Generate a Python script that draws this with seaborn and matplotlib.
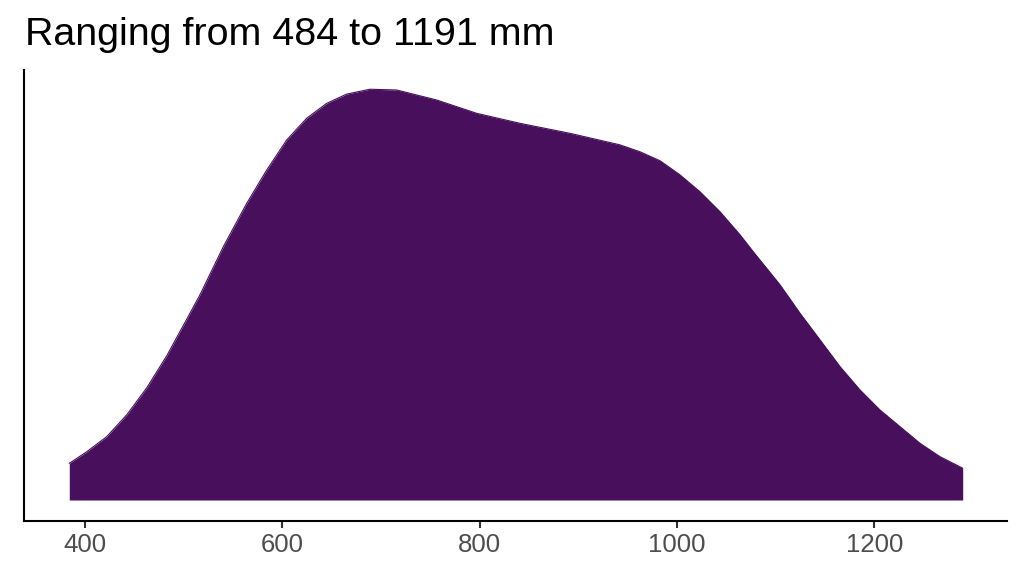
import matplotlib
matplotlib.use("Agg")
import matplotlib.pyplot as plt
import seaborn as sns
import pandas as pd

# Rainfall (mm) grid and estimated density
rain_mm = [384.1, 401.7, 422.0, 442.3, 462.5, 482.8, 503.1, 516.5, 540.2, 563.9,
           584.2, 604.4, 624.7, 645.0, 665.2, 688.8, 715.9, 756.4, 797.0, 840.9,
           891.5, 942.2, 962.5, 982.8, 1003.0, 1023.3, 1043.6, 1063.9, 1077.3, 1104.4,
           1124.7, 1145.0, 1165.2, 1185.5, 1205.7, 1226.0, 1246.3, 1266.5, 1289.5]
density = [0.000143, 0.000188, 0.000247, 0.000332, 0.000437, 0.000562, 0.000705, 0.000800,
           0.000988, 0.001157, 0.001287, 0.001404, 0.001489, 0.001547, 0.001583, 0.001602,
           0.001599, 0.001560, 0.001508, 0.001469, 0.001430, 0.001385, 0.001358, 0.001323,
           0.001268, 0.001202, 0.001124, 0.001034, 0.000968, 0.000839, 0.000728, 0.000624,
           0.000520, 0.000429, 0.000351, 0.000286, 0.000221, 0.000169, 0.000124]
x_ticks = [400, 600, 800, 1000, 1200]
title = "Ranging from 484 to 1191 mm"
fill_color = "#470F5C"

df = pd.DataFrame({"rain": rain_mm, "density": density})

sns.set_theme(style="ticks")
plt.rcParams["font.family"] = ["Liberation Sans", "DejaVu Sans"]

fig = plt.figure(figsize=(10.24, 5.76), dpi=100)
ax = fig.add_axes([24 / 1024, 1 - 520.7 / 576, (1007 - 24) / 1024, (520.7 - 70) / 576])

ax.fill_between(df["rain"], 0, df["density"], color=fill_color, linewidth=0)
sns.lineplot(data=df, x="rain", y="density", ax=ax, color=fill_color, linewidth=0.8)

ax.set_xlim(338.2, 1334.4)
ax.set_ylim(-8.07e-5, 0.001677)
ax.set_xticks(x_ticks)
ax.set_xticklabels([str(t) for t in x_ticks])
ax.set_yticks([])
ax.set_xlabel("")
ax.set_ylabel("")

for side in ["top", "right"]:
    ax.spines[side].set_visible(False)
for side in ["left", "bottom"]:
    ax.spines[side].set_color("black")
    ax.spines[side].set_linewidth(1.5)

ax.tick_params(axis="x", colors="#333333", width=1.5, length=5, pad=4,
               labelsize=18.5, labelcolor="#4D4D4D")

fig.text(25 / 1024, 1 - 45 / 576, title, fontsize=28.4, color="black",
         ha="left", va="baseline")

fig.savefig("out.png", dpi=100, facecolor="white")
